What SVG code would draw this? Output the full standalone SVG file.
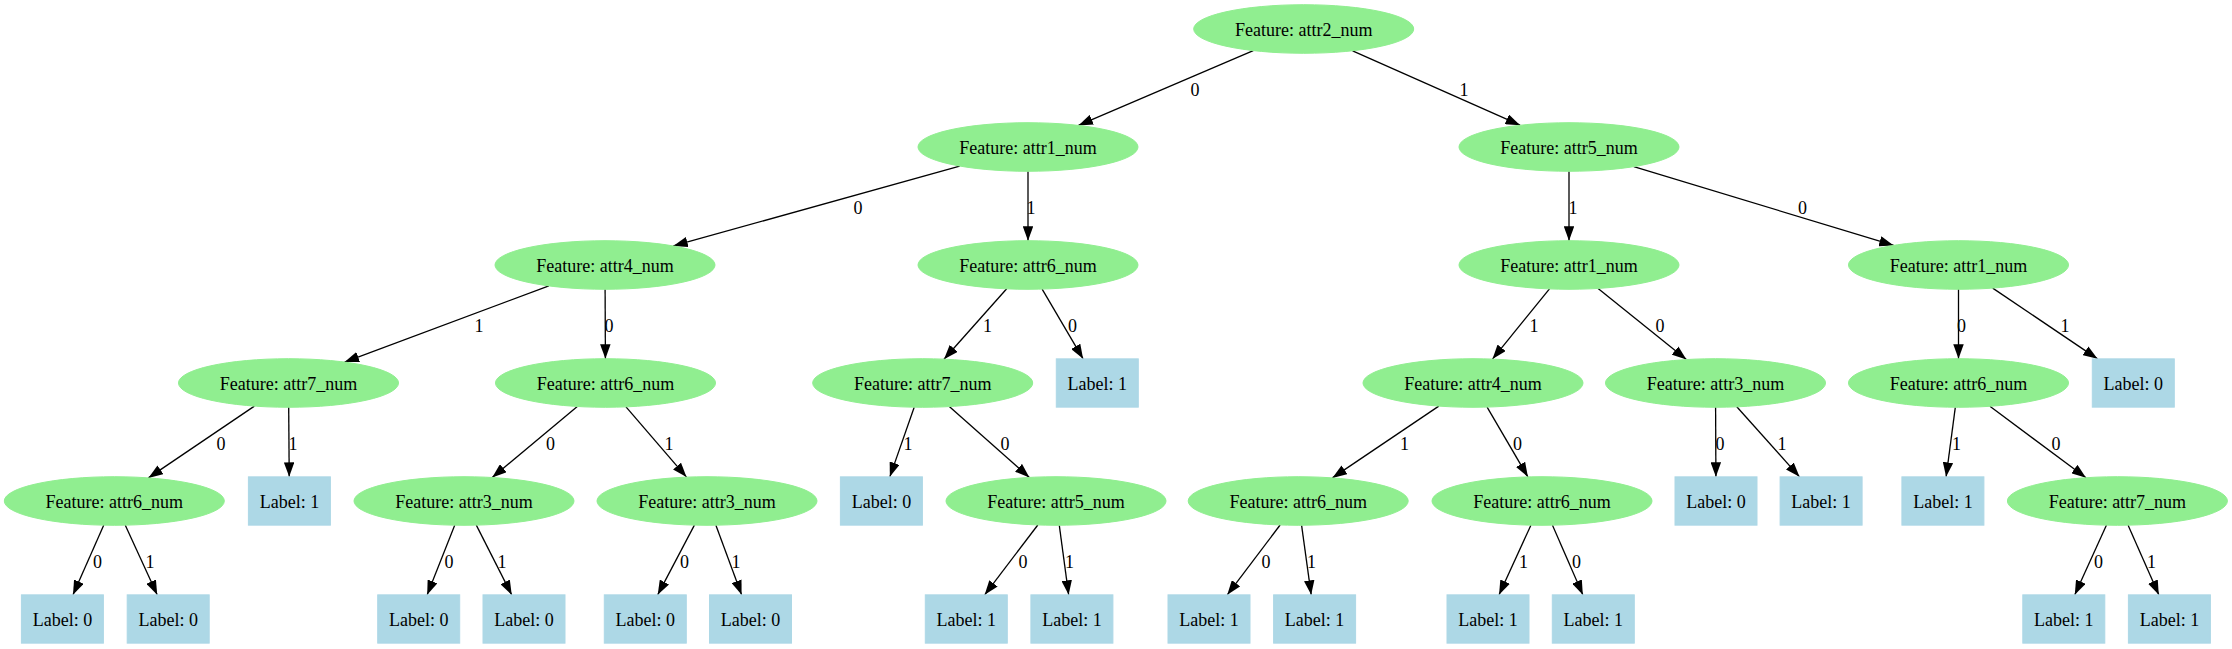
<svg xmlns="http://www.w3.org/2000/svg" width="2232" height="649" viewBox="0 0 2232 649" font-family="'Liberation Serif', 'Times New Roman', Times, serif">
<style>
text{font-family:'Liberation Serif','Times New Roman',Times,serif;font-size:18px;fill:#000;text-anchor:middle}
.f ellipse{fill:#90ee90;stroke:#90ee90}
.l rect{fill:#add8e6;stroke:#add8e6}
#edges line{stroke:#000;stroke-width:1.3;marker-end:url(#arr)}
</style>
<defs>
<marker id="arr" viewBox="0 0 14.5 10.5" refX="14.5" refY="5.25" markerWidth="14.5" markerHeight="10.5" markerUnits="userSpaceOnUse" orient="auto">
<path d="M0,0 L14.5,5.25 L0,10.5 z" fill="#000"/>
</marker>
</defs>
<rect width="2232" height="649" fill="#fff"/>
<g id="edges">
<line x1="1253.25" y1="50.6" x2="1078.45" y2="125.4"/>
<line x1="1352.6" y1="50.8" x2="1520.1" y2="125.2"/>
<line x1="959.7" y1="166.05" x2="673.3" y2="245.95"/>
<line x1="1028" y1="171.3" x2="1028" y2="240.7"/>
<line x1="1569" y1="171.3" x2="1569" y2="240.7"/>
<line x1="1633.8" y1="166.6" x2="1893.7" y2="245.4"/>
<line x1="548.9" y1="285.9" x2="344.6" y2="362.1"/>
<line x1="605.1" y1="289.3" x2="605.4" y2="358.7"/>
<line x1="1006.7" y1="288.8" x2="944.0" y2="359.2"/>
<line x1="1042.15" y1="289.1" x2="1083.1" y2="358.85"/>
<line x1="1549.5" y1="288.9" x2="1492.5" y2="359.1"/>
<line x1="1598.1" y1="288.4" x2="1686.4" y2="359.6"/>
<line x1="1958.5" y1="289.3" x2="1958.5" y2="358.7"/>
<line x1="1992.7" y1="288.1" x2="2097.5" y2="358.85"/>
<line x1="254.4" y1="406.1" x2="148.4" y2="477.9"/>
<line x1="288.7" y1="407.3" x2="289.2" y2="476.85"/>
<line x1="577.3" y1="406.5" x2="492.2" y2="477.5"/>
<line x1="626.0" y1="406.9" x2="686.5" y2="477.1"/>
<line x1="914.2" y1="407.2" x2="889.85" y2="476.85"/>
<line x1="949.3" y1="406.6" x2="1029.4" y2="477.4"/>
<line x1="1438.8" y1="406.1" x2="1332.4" y2="477.9"/>
<line x1="1487.1" y1="407.1" x2="1527.9" y2="476.9"/>
<line x1="1715.6" y1="407.3" x2="1715.9" y2="476.85"/>
<line x1="1736.8" y1="406.8" x2="1799.5" y2="476.85"/>
<line x1="1955.3" y1="407.3" x2="1946.1" y2="476.85"/>
<line x1="1989.9" y1="406.3" x2="2086.0" y2="477.7"/>
<line x1="103.7" y1="525.2" x2="73.0" y2="594.85"/>
<line x1="125.3" y1="525.2" x2="157.2" y2="594.85"/>
<line x1="454.7" y1="525.2" x2="427.2" y2="594.85"/>
<line x1="476.3" y1="525.15" x2="511.7" y2="594.85"/>
<line x1="694.4" y1="525.1" x2="657.7" y2="594.85"/>
<line x1="715.9" y1="525.2" x2="741.6" y2="594.85"/>
<line x1="1037.8" y1="525.0" x2="984.7" y2="594.85"/>
<line x1="1059.3" y1="525.3" x2="1068.65" y2="594.85"/>
<line x1="1280.1" y1="525.0" x2="1227.3" y2="594.85"/>
<line x1="1301.6" y1="525.3" x2="1311.2" y2="594.85"/>
<line x1="1530.9" y1="525.2" x2="1499.05" y2="594.85"/>
<line x1="1552.5" y1="525.2" x2="1582.8" y2="594.85"/>
<line x1="2106.4" y1="525.2" x2="2074.8" y2="594.85"/>
<line x1="2128.1" y1="525.2" x2="2158.8" y2="594.85"/>
<text x="1195" y="95.5">0</text>
<text x="1464" y="95.5">1</text>
<text x="858" y="213.5">0</text>
<text x="1031" y="213.5">1</text>
<text x="1573" y="213.5">1</text>
<text x="1802.5" y="213.5">0</text>
<text x="479" y="331.5">1</text>
<text x="609" y="331.5">0</text>
<text x="987.5" y="331.5">1</text>
<text x="1072.5" y="331.5">0</text>
<text x="1534" y="331.5">1</text>
<text x="1660" y="331.5">0</text>
<text x="1961.5" y="331.5">0</text>
<text x="2065" y="331.5">1</text>
<text x="221" y="450">0</text>
<text x="293" y="450">1</text>
<text x="550.5" y="450">0</text>
<text x="669" y="450">1</text>
<text x="908" y="450">1</text>
<text x="1005" y="450">0</text>
<text x="1404.5" y="450">1</text>
<text x="1517.5" y="450">0</text>
<text x="1720" y="450">0</text>
<text x="1782" y="450">1</text>
<text x="1956.5" y="450">1</text>
<text x="2056" y="450">0</text>
<text x="97.5" y="567.5">0</text>
<text x="150" y="567.5">1</text>
<text x="449" y="567.5">0</text>
<text x="502" y="567.5">1</text>
<text x="684.5" y="567.5">0</text>
<text x="736" y="567.5">1</text>
<text x="1023" y="567.5">0</text>
<text x="1069.5" y="567.5">1</text>
<text x="1266" y="567.5">0</text>
<text x="1311.5" y="567.5">1</text>
<text x="1523.5" y="567.5">1</text>
<text x="1576.5" y="567.5">0</text>
<text x="2098.5" y="567.5">0</text>
<text x="2151.5" y="567.5">1</text>
</g>
<g id="n0" class="f"><ellipse cx="1303.7" cy="29" rx="110" ry="24.3"/><text x="1303.7" y="35.5">Feature: attr2_num</text></g>
<g id="n1" class="f"><ellipse cx="1028" cy="147" rx="110" ry="24.3"/><text x="1028" y="153.5">Feature: attr1_num</text></g>
<g id="n2" class="f"><ellipse cx="1569" cy="147" rx="110" ry="24.3"/><text x="1569" y="153.5">Feature: attr5_num</text></g>
<g id="n3" class="f"><ellipse cx="605" cy="265" rx="110" ry="24.3"/><text x="605" y="271.5">Feature: attr4_num</text></g>
<g id="n4" class="f"><ellipse cx="1028" cy="265" rx="110" ry="24.3"/><text x="1028" y="271.5">Feature: attr6_num</text></g>
<g id="n5" class="f"><ellipse cx="1569" cy="265" rx="110" ry="24.3"/><text x="1569" y="271.5">Feature: attr1_num</text></g>
<g id="n6" class="f"><ellipse cx="1958.5" cy="265" rx="110" ry="24.3"/><text x="1958.5" y="271.5">Feature: attr1_num</text></g>
<g id="n7" class="f"><ellipse cx="288.5" cy="383" rx="110" ry="24.3"/><text x="288.5" y="389.5">Feature: attr7_num</text></g>
<g id="n8" class="f"><ellipse cx="605.5" cy="383" rx="110" ry="24.3"/><text x="605.5" y="389.5">Feature: attr6_num</text></g>
<g id="n9" class="f"><ellipse cx="922.7" cy="383" rx="110" ry="24.3"/><text x="922.7" y="389.5">Feature: attr7_num</text></g>
<g id="n10" class="l"><rect x="1056.3" y="358.85" width="82" height="48.3"/><text x="1097.3" y="389.5">Label: 1</text></g>
<g id="n11" class="f"><ellipse cx="1473" cy="383" rx="110" ry="24.3"/><text x="1473" y="389.5">Feature: attr4_num</text></g>
<g id="n12" class="f"><ellipse cx="1715.5" cy="383" rx="110" ry="24.3"/><text x="1715.5" y="389.5">Feature: attr3_num</text></g>
<g id="n13" class="f"><ellipse cx="1958.5" cy="383" rx="110" ry="24.3"/><text x="1958.5" y="389.5">Feature: attr6_num</text></g>
<g id="n14" class="l"><rect x="2092.3" y="358.85" width="82" height="48.3"/><text x="2133.3" y="389.5">Label: 0</text></g>
<g id="n15" class="f"><ellipse cx="114.3" cy="501" rx="110" ry="24.3"/><text x="114.3" y="507.5">Feature: attr6_num</text></g>
<g id="n16" class="l"><rect x="248.4" y="476.85" width="82" height="48.3"/><text x="289.4" y="507.5">Label: 1</text></g>
<g id="n17" class="f"><ellipse cx="464" cy="501" rx="110" ry="24.3"/><text x="464" y="507.5">Feature: attr3_num</text></g>
<g id="n18" class="f"><ellipse cx="707" cy="501" rx="110" ry="24.3"/><text x="707" y="507.5">Feature: attr3_num</text></g>
<g id="n19" class="l"><rect x="840.4" y="476.85" width="82" height="48.3"/><text x="881.4" y="507.5">Label: 0</text></g>
<g id="n20" class="f"><ellipse cx="1056" cy="501" rx="110" ry="24.3"/><text x="1056" y="507.5">Feature: attr5_num</text></g>
<g id="n21" class="f"><ellipse cx="1298.2" cy="501" rx="110" ry="24.3"/><text x="1298.2" y="507.5">Feature: attr6_num</text></g>
<g id="n22" class="f"><ellipse cx="1542" cy="501" rx="110" ry="24.3"/><text x="1542" y="507.5">Feature: attr6_num</text></g>
<g id="n23" class="l"><rect x="1675" y="476.85" width="82" height="48.3"/><text x="1716" y="507.5">Label: 0</text></g>
<g id="n24" class="l"><rect x="1780.1" y="476.85" width="82" height="48.3"/><text x="1821.1" y="507.5">Label: 1</text></g>
<g id="n25" class="l"><rect x="1901.9" y="476.85" width="82" height="48.3"/><text x="1942.9" y="507.5">Label: 1</text></g>
<g id="n26" class="f"><ellipse cx="2117.4" cy="501" rx="110" ry="24.3"/><text x="2117.4" y="507.5">Feature: attr7_num</text></g>
<g id="n27" class="l"><rect x="21.4" y="594.85" width="82" height="48.3"/><text x="62.4" y="625.5">Label: 0</text></g>
<g id="n28" class="l"><rect x="127.2" y="594.85" width="82" height="48.3"/><text x="168.2" y="625.5">Label: 0</text></g>
<g id="n29" class="l"><rect x="377.7" y="594.85" width="82" height="48.3"/><text x="418.7" y="625.5">Label: 0</text></g>
<g id="n30" class="l"><rect x="483" y="594.85" width="82" height="48.3"/><text x="524" y="625.5">Label: 0</text></g>
<g id="n31" class="l"><rect x="604.3" y="594.85" width="82" height="48.3"/><text x="645.3" y="625.5">Label: 0</text></g>
<g id="n32" class="l"><rect x="709.5" y="594.85" width="82" height="48.3"/><text x="750.5" y="625.5">Label: 0</text></g>
<g id="n33" class="l"><rect x="925.3" y="594.85" width="82" height="48.3"/><text x="966.3" y="625.5">Label: 1</text></g>
<g id="n34" class="l"><rect x="1030.9" y="594.85" width="82" height="48.3"/><text x="1071.9" y="625.5">Label: 1</text></g>
<g id="n35" class="l"><rect x="1168" y="594.85" width="82" height="48.3"/><text x="1209" y="625.5">Label: 1</text></g>
<g id="n36" class="l"><rect x="1273.6" y="594.85" width="82" height="48.3"/><text x="1314.6" y="625.5">Label: 1</text></g>
<g id="n37" class="l"><rect x="1447" y="594.85" width="82" height="48.3"/><text x="1488" y="625.5">Label: 1</text></g>
<g id="n38" class="l"><rect x="1552.3" y="594.85" width="82" height="48.3"/><text x="1593.3" y="625.5">Label: 1</text></g>
<g id="n39" class="l"><rect x="2022.8" y="594.85" width="82" height="48.3"/><text x="2063.8" y="625.5">Label: 1</text></g>
<g id="n40" class="l"><rect x="2128.4" y="594.85" width="82" height="48.3"/><text x="2169.4" y="625.5">Label: 1</text></g>
</svg>
